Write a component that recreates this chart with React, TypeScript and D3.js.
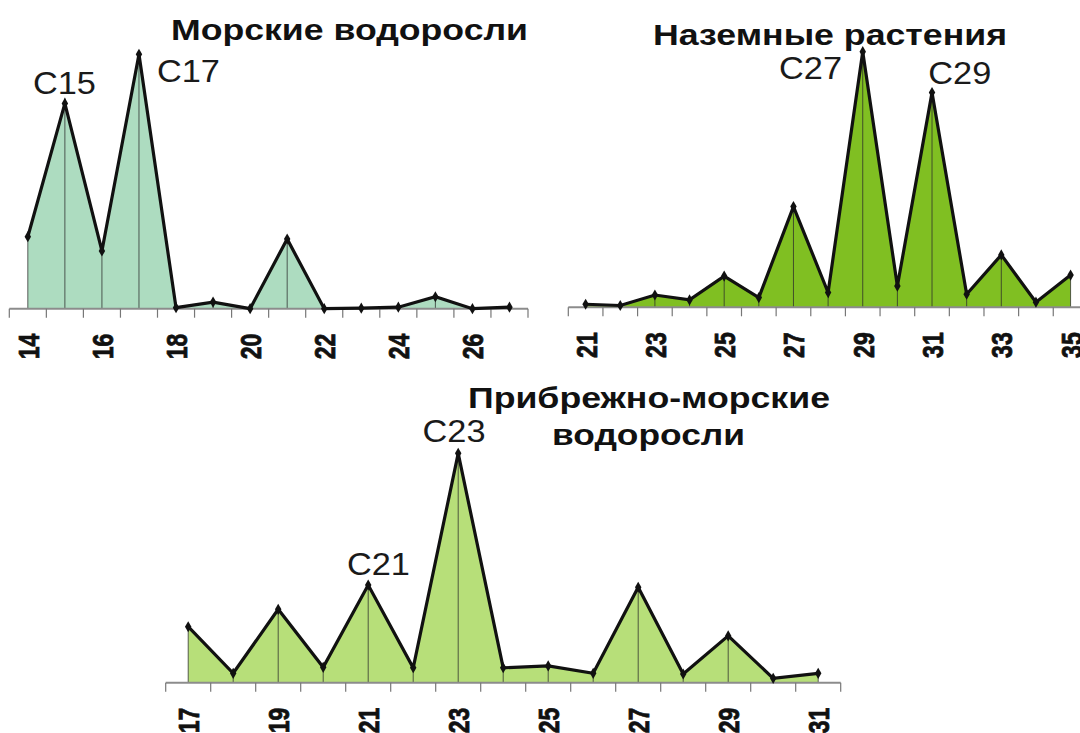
import * as d3 from "d3";

// relative abundance, tallest peak of each profile = 100
const marineCategories = ["14", "15", "16", "17", "18", "19", "20", "21", "22", "23", "24", "25", "26", "27"];
const marineValues = [28.3, 80.7, 22.7, 100, 0.4, 2.6, 0, 27.4, 0, 0.2, 0.6, 4.7, 0, 0.6];
const marineTickLabels = ["14", "16", "18", "20", "22", "24", "26"];
const marinePeaks = [
  { at: "15", text: "C15" },
  { at: "17", text: "C17" },
];

const landCategories = ["21", "22", "23", "24", "25", "26", "27", "28", "29", "30", "31", "32", "33", "34", "35"];
const landValues = [1.2, 0.7, 4.8, 2.9, 12.2, 3.8, 39.4, 5.8, 100, 8.3, 84.0, 5.1, 20.5, 2.0, 12.6];
const landTickLabels = ["21", "23", "25", "27", "29", "31", "33", "35"];
const landPeaks = [
  { at: "29", text: "C27" },
  { at: "31", text: "C29" },
];

const coastalCategories = ["17", "18", "19", "20", "21", "22", "23", "24", "25", "26", "27", "28", "29", "30", "31"];
const coastalValues = [24.4, 4.1, 32.0, 6.7, 42.6, 6.5, 100, 6.5, 7.3, 4.1, 41.6, 3.8, 20.4, 1.9, 4.1];
const coastalTickLabels = ["17", "19", "21", "23", "25", "27", "29", "31"];
const coastalPeaks = [
  { at: "21", text: "C21" },
  { at: "23", text: "C23" },
];

const FONT = "'Liberation Sans', Arial, sans-serif";

interface Peak {
  at: string;
  text: string;
}

interface PanelProps {
  categories: string[];
  values: number[];
  tickLabels: string[];
  peaks: Peak[];
  x0: number;
  x1: number;
  baseline: number;
  top: number;
  fill: string;
  titles: { text: string; x0: number; x1: number; y: number }[];
  peakOffsets: { dx: number; dy: number }[];
}

function Panel({
  categories,
  values,
  tickLabels,
  peaks,
  x0,
  x1,
  baseline,
  top,
  fill,
  titles,
  peakOffsets,
}: PanelProps) {
  const x = d3.scaleBand<string>().domain(categories).range([x0, x1]).padding(0);
  const y = d3.scaleLinear().domain([0, 100]).range([baseline, top]);
  const bw = x.bandwidth();
  const cx = (c: string) => (x(c) as number) + bw / 2;

  const data = categories.map((c, i) => ({ c, v: values[i] }));

  const area = d3
    .area<{ c: string; v: number }>()
    .x((d) => cx(d.c))
    .y0(baseline)
    .y1((d) => y(d.v));

  const line = d3
    .line<{ c: string; v: number }>()
    .x((d) => cx(d.c))
    .y((d) => y(d.v));

  const diamond = d3.symbol().type(d3.symbolDiamond).size(36)();

  // tick marks sit on band edges
  const tickXs = categories.map((c) => x(c) as number).concat([x1]);

  return (
    <g>
      <path d={area(data) ?? ""} fill={fill} stroke="none" />
      {data.map((d) => (
        <line
          key={"v" + d.c}
          x1={cx(d.c)}
          x2={cx(d.c)}
          y1={baseline}
          y2={y(d.v)}
          stroke="#2b2b2b"
          strokeWidth={1}
          opacity={0.75}
        />
      ))}
      <line x1={x0} x2={x1} y1={baseline} y2={baseline} stroke="#8c8c8c" strokeWidth={2} />
      {tickXs.map((t, i) => (
        <line key={"t" + i} x1={t} x2={t} y1={baseline} y2={baseline + 9} stroke="#777" strokeWidth={1.2} />
      ))}
      {tickLabels.map((c) => (
        <text
          key={"l" + c}
          transform={`translate(${cx(c)},${baseline + 25}) scale(1.32,1) rotate(-90)`}
          textAnchor="end"
          dy="0.36em"
          fontFamily={FONT}
          fontWeight="bold"
          fontSize={23}
          fill="#111"
          stroke="#111"
          strokeWidth={0.6}
        >
          {c}
        </text>
      ))}
      <path
        d={line(data) ?? ""}
        fill="none"
        stroke="#111"
        strokeWidth={3.2}
        strokeLinejoin="miter"
      />
      {data.map((d) => (
        <path key={"m" + d.c} d={diamond ?? ""} transform={`translate(${cx(d.c)},${y(d.v)})`} fill="#111" />
      ))}
      {peaks.map((p, i) => {
        const v = values[categories.indexOf(p.at)];
        return (
          <text
            key={"p" + p.text}
            x={cx(p.at) + peakOffsets[i].dx}
            y={y(v) + peakOffsets[i].dy}
            fontFamily={FONT}
            fontSize={31}
            fill="#1a1a1a"
            textLength={63}
            lengthAdjust="spacingAndGlyphs"
          >
            {p.text}
          </text>
        );
      })}
      {titles.map((t) => (
        <text
          key={t.text}
          x={t.x0}
          y={t.y}
          fontFamily={FONT}
          fontWeight="bold"
          fontSize={29}
          fill="#111"
          textLength={t.x1 - t.x0}
          lengthAdjust="spacingAndGlyphs"
        >
          {t.text}
        </text>
      ))}
    </g>
  );
}

export default function App() {
  return (
    <div style={{ position: "absolute", left: 0, top: 0 }}>
      <svg width={1080} height={733} style={{ display: "block", background: "#fff" }}>
        <Panel
          categories={marineCategories}
          values={marineValues}
          tickLabels={marineTickLabels}
          peaks={marinePeaks}
          x0={9.3}
          x1={528}
          baseline={308.7}
          top={54.3}
          fill="#addcc0"
          titles={[{ text: "Морские водоросли", x0: 171, x1: 528, y: 40 }]}
          peakOffsets={[
            { dx: -32, dy: -9.3 },
            { dx: 18, dy: 27.7 },
          ]}
        />
        <Panel
          categories={landCategories}
          values={landValues}
          tickLabels={landTickLabels}
          peaks={landPeaks}
          x0={568.3}
          x1={1087.9}
          baseline={307.3}
          top={51.7}
          fill="#80bf22"
          titles={[{ text: "Наземные растения", x0: 653, x1: 1007, y: 45 }]}
          peakOffsets={[
            { dx: -83.7, dy: 27.3 },
            { dx: -3.7, dy: -8.7 },
          ]}
        />
        <Panel
          categories={coastalCategories}
          values={coastalValues}
          tickLabels={coastalTickLabels}
          peaks={coastalPeaks}
          x0={165.7}
          x1={840.7}
          baseline={682.7}
          top={453.3}
          fill="#b7df79"
          titles={[
            { text: "Прибрежно-морские", x0: 468, x1: 830, y: 408 },
            { text: "водоросли", x0: 552, x1: 745, y: 445 },
          ]}
          peakOffsets={[
            { dx: -21.3, dy: -10 },
            { dx: -35.7, dy: -11.6 },
          ]}
        />
      </svg>
    </div>
  );
}
